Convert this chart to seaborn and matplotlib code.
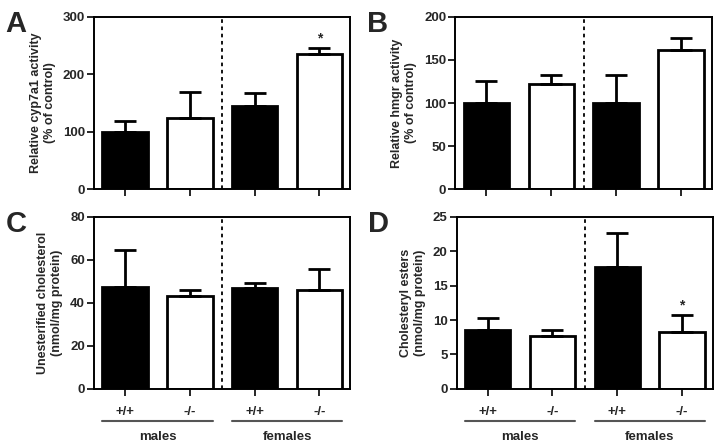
import matplotlib
matplotlib.use("Agg")
import matplotlib.pyplot as plt
import matplotlib.transforms as mtransforms
import seaborn as sns
import pandas as pd

sns.set_style("ticks")
plt.rcParams['font.family'] = ['Liberation Sans', 'DejaVu Sans']
plt.rcParams['font.weight'] = 'bold'

# data
groups = ["males +/+", "males -/-", "females +/+", "females -/-"]
genotypes = ["+/+", "-/-", "+/+", "-/-"]
sexes = ["males", "females"]

cyp7a1_mean = [100, 124, 145, 236]
cyp7a1_err = [18, 45, 22, 10]
hmgr_mean = [100, 122, 100, 161]
hmgr_err = [26, 11, 32, 15]
unest_mean = [47.5, 43, 47, 46]
unest_err = [17, 2.8, 2, 9.5]
ester_mean = [8.5, 7.7, 17.7, 8.3]
ester_err = [1.8, 0.9, 5.0, 2.4]

panels = [
    ("A", cyp7a1_mean, cyp7a1_err, "Relative cyp7a1 activity\n(% of control)", 300, 100, [3]),
    ("B", hmgr_mean, hmgr_err, "Relative hmgr activity\n(% of control)", 200, 50, []),
    ("C", unest_mean, unest_err, "Unesterified cholesterol\n(nmol/mg protein)", 80, 20, []),
    ("D", ester_mean, ester_err, "Cholesteryl esters\n(nmol/mg protein)", 25, 5, [3]),
]

positions = [
    [0.131, 0.575, 0.357, 0.387],
    [0.634, 0.575, 0.358, 0.387],
    [0.131, 0.126, 0.357, 0.387],
    [0.636, 0.126, 0.357, 0.387],
]

fig = plt.figure(figsize=(7.18, 4.45), dpi=100)
bar_colors = ["black", "white", "black", "white"]

for i, (letter, mean, err, ylabel, ymax, ystep, stars) in enumerate(panels):
    ax = fig.add_axes(positions[i])
    df = pd.DataFrame({"group": groups, "value": mean})
    sns.barplot(data=df, x="group", y="value", hue="group", palette=bar_colors,
                order=groups, hue_order=groups, legend=False, width=0.7,
                edgecolor="black", linewidth=2, errorbar=None, ax=ax)
    ax.errorbar(range(4), mean, yerr=[[0] * 4, err], fmt="none", ecolor="black",
                elinewidth=2, capsize=8, capthick=2, zorder=1)
    ax.axvline(1.5, color="black", linestyle=(0, (2, 2)), linewidth=1.3)
    for s in stars:
        ax.text(s, mean[s] + err[s] + ymax * 0.015, "*", ha="center", va="bottom",
                fontsize=10, fontweight="bold")

    ax.set_xlim(-0.48, 3.48)
    ax.set_ylim(0, ymax)
    ax.set_yticks(range(0, ymax + 1, ystep))
    ax.set_ylabel(ylabel, fontsize=9, fontweight="bold", labelpad=5)
    ax.set_xlabel("")
    for sp in ax.spines.values():
        sp.set_visible(True)
        sp.set_linewidth(1.4)
        sp.set_color("black")
    ax.tick_params(axis="both", direction="out", length=5, width=1.4, labelsize=9.5)
    ax.tick_params(axis="y", pad=1.5)
    for lab in ax.get_yticklabels():
        lab.set_fontweight("bold")
    ax.text(-0.345, 1.04, letter, transform=ax.transAxes, fontsize=21,
            fontweight="bold", ha="left", va="top")

    ax.set_xticks(range(4))
    if i >= 2:
        ax.set_xticklabels(genotypes, fontsize=9.5, fontweight="bold")
        ax.tick_params(axis="x", pad=7)
        trans = mtransforms.blended_transform_factory(ax.transData, ax.transAxes)
        for k, sex in enumerate(sexes):
            x0, x1 = 2 * k - 0.35, 2 * k + 1.35
            ax.plot([x0, x1], [-0.186, -0.186], color="#555555", linewidth=1.5,
                    transform=trans, clip_on=False)
            ax.text(2 * k + 0.5, -0.28, sex, transform=trans, ha="center", va="center",
                    fontsize=9.5, fontweight="bold")
    else:
        ax.set_xticklabels([])

fig.savefig("out.png", dpi=100)
